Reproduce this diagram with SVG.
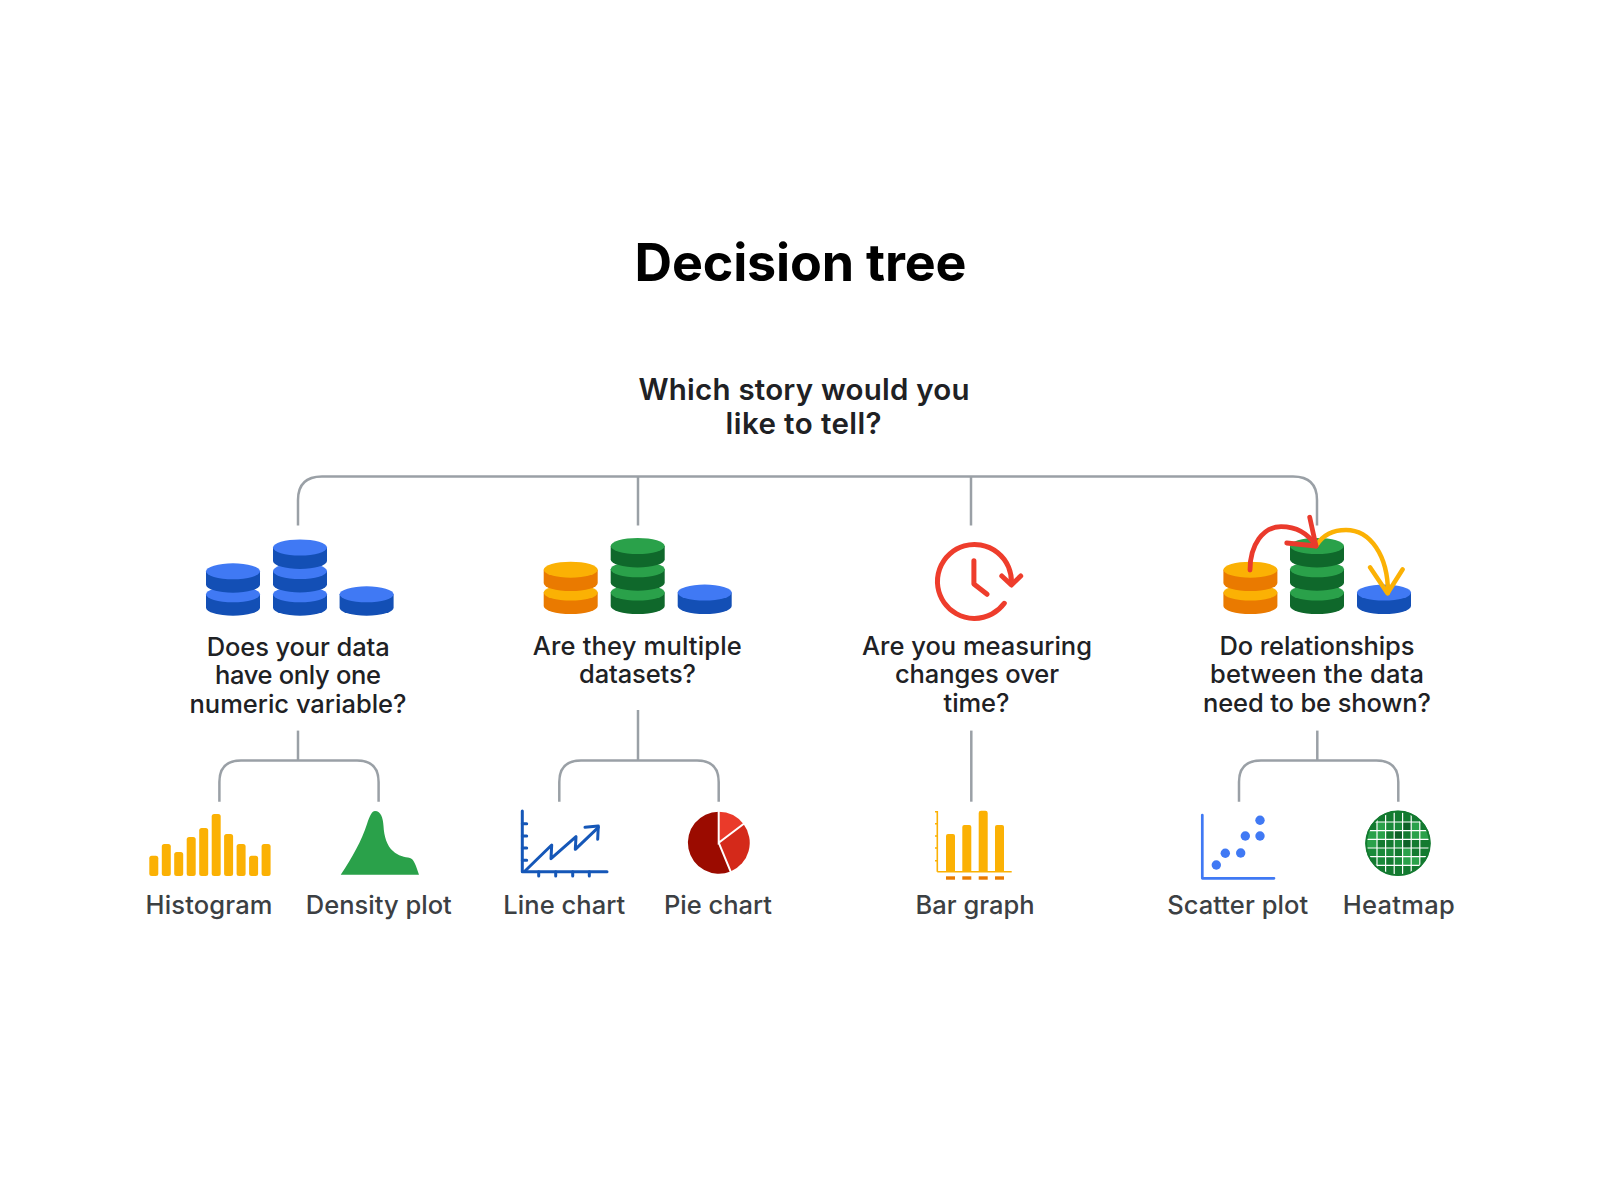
<svg xmlns="http://www.w3.org/2000/svg" xmlns:xlink="http://www.w3.org/1999/xlink" width="1600" height="1197" viewBox="0 0 1600 1197">
<style>
text{font-family:"Inter","Roboto","Liberation Sans",sans-serif;text-anchor:middle}
.title{font-size:52px;font-weight:700;fill:#000}
.sub{font-size:29.500px;font-weight:600;fill:#202124}
.q{font-size:25.500px;font-weight:500;fill:#202124}
.leaf{font-size:25.500px;font-weight:500;fill:#3c4043}
.conn{fill:none;stroke:#9aa0a6;stroke-width:2.500}
.bt{fill:#4079f4}.bs{fill:#134fb5}
.gt{fill:#2aa14a}.gs{fill:#0f682b}
.yt{fill:#fbb104}.ys{fill:#ea7a00}
.arr{fill:none;stroke-linecap:round;stroke-linejoin:round}
.a{fill:#2aa14a}.b{fill:#1a8a3a}.c{fill:#137a30}.d{fill:#0d6228}
.bar{fill:#fbb104}
</style>
<defs>
<g id="blue"><path class="bs" d="M-27 0V13.400A27 8 0 0 0 27 13.400V0Z"/><ellipse class="bt" rx="27" ry="8"/></g>
<g id="green"><path class="gs" d="M-27 0V13.400A27 8 0 0 0 27 13.400V0Z"/><ellipse class="gt" rx="27" ry="8"/></g>
<g id="amber"><path class="ys" d="M-27 0V13.400A27 8 0 0 0 27 13.400V0Z"/><ellipse class="yt" rx="27" ry="8"/></g>
<clipPath id="hm"><circle cx="1398" cy="843.300" r="32.500"/></clipPath>
</defs>
<g id="connectors">
<path class="conn" d="M298 525.500V500Q298 476.500 322 476.500H1293Q1317 476.500 1317 500V525.500"/>
<path class="conn" d="M638 476.500V525.500"/>
<path class="conn" d="M971 476.500V525.500"/>
<path class="conn" d="M298 730.600V760.500"/>
<path class="conn" d="M219.400 801.700V782Q219.400 760.500 241 760.500H357Q378.600 760.500 378.600 782V801.700"/>
<path class="conn" d="M638 710V760.500"/>
<path class="conn" d="M559.300 801.700V782Q559.300 760.500 581 760.500H697Q718.700 760.500 718.700 782V801.700"/>
<path class="conn" d="M971.300 730.600V801.700"/>
<path class="conn" d="M1317.300 730.600V760.500"/>
<path class="conn" d="M1239 801.700V782Q1239 760.500 1261 760.500H1376.400Q1398.300 760.500 1398.300 782V801.700"/>
</g>
<g id="title"><text class="title" x="800.500" y="280.500" textLength="332">Decision tree</text></g>
<g id="root"><text class="sub" x="804" y="400" textLength="331">Which story would you</text><text class="sub" x="803.600" y="434.200" textLength="156">like to tell?</text></g>
<g id="q-single">
<use xlink:href="#blue" href="#blue" x="233" y="594.300"/><use xlink:href="#blue" href="#blue" x="233" y="571.300"/>
<use xlink:href="#blue" href="#blue" x="300" y="594.300"/><use xlink:href="#blue" href="#blue" x="300" y="571"/><use xlink:href="#blue" href="#blue" x="300" y="547.500"/>
<use xlink:href="#blue" href="#blue" x="366.600" y="594.300"/>
<text class="q" x="298.200" y="656" textLength="183">Does your data</text>
<text class="q" x="298" y="684.300" textLength="166">have only one</text>
<text class="q" x="298" y="712.600" textLength="217">numeric variable?</text>
</g>
<g id="q-multiple">
<use xlink:href="#amber" href="#amber" x="570.700" y="592.600"/><use xlink:href="#amber" href="#amber" x="570.700" y="569.700"/>
<use xlink:href="#green" href="#green" x="637.700" y="592.600"/><use xlink:href="#green" href="#green" x="637.700" y="569.300"/><use xlink:href="#green" href="#green" x="637.700" y="546"/>
<use xlink:href="#blue" href="#blue" x="704.700" y="592.600"/>
<text class="q" x="637.300" y="655" textLength="209">Are they multiple</text>
<text class="q" x="637.500" y="683.300" textLength="117">datasets?</text>
</g>
<g id="q-time">
<g class="arr" stroke="#ee3d2c" stroke-width="5">
<path d="M1004.300 603.300A37 37 0 1 1 1011.400 583.300"/>
<path d="M1001.800 576L1011.400 585L1020.700 576"/>
<path d="M973.900 560.700V584L987.100 594.300"/>
</g>
<text class="q" x="977" y="655" textLength="230">Are you measuring</text>
<text class="q" x="977" y="683.300" textLength="164">changes over</text>
<text class="q" x="976.500" y="711.600" textLength="66">time?</text>
</g>
<g id="q-relationships">
<use xlink:href="#amber" href="#amber" x="1250.400" y="592.600"/><use xlink:href="#amber" href="#amber" x="1250.400" y="569.700"/>
<use xlink:href="#green" href="#green" x="1317" y="592.600"/><use xlink:href="#green" href="#green" x="1317" y="569.300"/><use xlink:href="#green" href="#green" x="1317" y="546"/>
<use xlink:href="#blue" href="#blue" x="1384" y="592.600"/>
<g class="arr" stroke="#fbb104" stroke-width="4.500">
<path d="M1316.700 545C1323 535 1334 530 1346 530C1370 530 1388 555 1388 593"/>
<path d="M1370 567.300L1387.500 593.300L1402.700 569.300"/>
</g>
<g class="arr" stroke="#ea3a2c" stroke-width="4.800">
<path d="M1250 570C1250 545 1263 526.700 1281 526.700C1298 526.700 1309 535 1316 546"/>
<path d="M1286.700 543L1316 546L1309.700 517.300"/>
</g>
<text class="q" x="1317" y="655" textLength="195">Do relationships</text>
<text class="q" x="1317" y="683.300" textLength="214">between the data</text>
<text class="q" x="1317" y="711.600" textLength="228">need to be shown?</text>
</g>
<g id="histogram">
<rect class="bar" x="149.300" y="855.700" width="9" height="20.300" rx="2.500"/>
<rect class="bar" x="161.800" y="844" width="9" height="32" rx="2.500"/>
<rect class="bar" x="174.200" y="852" width="9" height="24" rx="2.500"/>
<rect class="bar" x="186.700" y="837" width="9" height="39" rx="2.500"/>
<rect class="bar" x="199.200" y="828" width="9" height="48" rx="2.500"/>
<rect class="bar" x="211.700" y="814" width="9" height="62" rx="2.500"/>
<rect class="bar" x="224.100" y="834" width="9" height="42" rx="2.500"/>
<rect class="bar" x="236.600" y="844" width="9" height="32" rx="2.500"/>
<rect class="bar" x="249.100" y="855.700" width="9" height="20.300" rx="2.500"/>
<rect class="bar" x="261.600" y="844" width="9" height="32" rx="2.500"/>
<text class="leaf" x="209" y="914" textLength="127">Histogram</text>
</g>
<g id="density">
<path fill="#2aa14a" d="M340.700 874.700C352 858 362 840 367 824C370 815 372 811 375 811C381 811 383 818 383.500 826C384 836 387 846 393 851C398 856 405 857 410 858C414 859 416 866 419 874.700Z"/>
<text class="leaf" x="378.800" y="914" textLength="146">Density plot</text>
</g>
<g id="line-chart">
<g class="arr" stroke="#1557b8" stroke-width="3">
<path d="M522.300 811V871.700H607"/>
<path d="M522.300 823.700H526.700M522.300 836H526.700M522.300 848H526.700M522.300 860.300H526.700"/>
<path d="M538.700 871.700V876M555.700 871.700V876M572.700 871.700V876M589.300 871.700V876"/>
<path d="M525 871L551.700 845L551 858.700L576 836.700L575.300 849.300L598.300 827.300"/>
<path d="M585 827.300L598.300 826L597.700 839.300"/>
</g>
<text class="leaf" x="564.300" y="914" textLength="122">Line chart</text>
</g>
<g id="pie-chart">
<path fill="#9b0b00" d="M718.700 842.700L730.600 871.400A31 31 0 1 1 718.700 811.700Z"/>
<path fill="#d4291a" d="M718.700 842.700L743.500 824.100A31 31 0 0 1 730.600 871.400Z"/>
<path fill="#ea3a2a" d="M718.700 842.700V811.700A31 31 0 0 1 743.500 824.100Z"/>
<path fill="none" stroke="#fff" stroke-width="2" d="M718.700 810V842.700L744.500 823.300M718.700 842.700L731.200 872.800"/>
<text class="leaf" x="718" y="914" textLength="108">Pie chart</text>
</g>
<g id="bar-graph">
<path fill="none" stroke="#fbb104" stroke-width="1.600" d="M935 811.700H937.300V871.700M935 823.700H937.300M935 836H937.300M935 848H937.300M935 860.700H937.300"/>
<path fill="none" stroke="#fbb104" stroke-width="1.600" d="M937.300 871.700H1011.700"/>
<path class="bar" d="M946 871.700V836a2 2 0 0 1 2-2h5a2 2 0 0 1 2 2V871.700Z"/>
<path class="bar" d="M962.300 871.700V827a2 2 0 0 1 2-2h5a2 2 0 0 1 2 2V871.700Z"/>
<path class="bar" d="M978.700 871.700V813a2.300 2.300 0 0 1 2.300-2.300h4.400a2.300 2.300 0 0 1 2.300 2.300V871.700Z"/>
<path class="bar" d="M995 871.700V827a2 2 0 0 1 2-2h5a2 2 0 0 1 2 2V871.700Z"/>
<g fill="#ea7a00"><rect x="946" y="876.300" width="9" height="3.400"/><rect x="962.300" y="876.300" width="9" height="3.400"/><rect x="978.700" y="876.300" width="9" height="3.400"/><rect x="995" y="876.300" width="9" height="3.400"/></g>
<text class="leaf" x="975" y="914" textLength="119">Bar graph</text>
</g>
<g id="scatter-plot">
<path class="arr" stroke="#4079f4" stroke-width="2.700" d="M1202.300 815V878.300H1274"/>
<g fill="#4079f4"><circle cx="1216.300" cy="865" r="4.700"/><circle cx="1225.300" cy="853.300" r="4.700"/><circle cx="1240.700" cy="853" r="4.700"/><circle cx="1245.300" cy="836" r="4.700"/><circle cx="1260" cy="836" r="4.700"/><circle cx="1260" cy="820.300" r="4.700"/></g>
<text class="leaf" x="1237.700" y="914" textLength="141">Scatter plot</text>
</g>
<g id="heatmap">
<g clip-path="url(#hm)">
<rect x="1365" y="810" width="66" height="67" fill="#137a30"/>
<rect class="a" x="1377" y="822" width="8.600" height="8.700"/><rect class="b" x="1385.600" y="822" width="8.600" height="8.700"/><rect class="b" x="1394.200" y="822" width="8.400" height="8.700"/><rect class="d" x="1402.600" y="822" width="8.600" height="8.700"/><rect class="a" x="1411.200" y="822" width="8.600" height="8.700"/>
<rect class="a" x="1368" y="830.700" width="9" height="8.600"/><rect class="a" x="1377" y="830.700" width="8.600" height="8.600"/><rect class="c" x="1385.600" y="830.700" width="8.600" height="8.600"/><rect class="d" x="1394.200" y="830.700" width="8.400" height="8.600"/><rect class="c" x="1402.600" y="830.700" width="8.600" height="8.600"/><rect class="a" x="1411.200" y="830.700" width="8.600" height="8.600"/><rect class="a" x="1419.800" y="830.700" width="9" height="8.600"/>
<rect class="a" x="1365" y="839.300" width="12" height="8.700"/><rect class="c" x="1385.600" y="839.300" width="8.600" height="8.700"/><rect class="b" x="1394.200" y="839.300" width="8.400" height="8.700"/><rect class="d" x="1402.600" y="839.300" width="8.600" height="8.700"/>
<rect class="b" x="1365" y="848" width="12" height="8.700"/><rect class="b" x="1377" y="848" width="8.600" height="8.700"/><rect class="b" x="1385.600" y="848" width="8.600" height="8.700"/><rect class="a" x="1402.600" y="848" width="8.600" height="8.700"/>
<rect class="b" x="1377" y="856.700" width="8.600" height="8.600"/><rect class="b" x="1394.200" y="856.700" width="8.400" height="8.600"/><rect class="a" x="1402.600" y="856.700" width="8.600" height="8.600"/><rect class="a" x="1411.200" y="856.700" width="8.600" height="8.600"/>
<path fill="none" stroke="#fff" stroke-width="1.200" d="M1377 810V877M1385.600 810V877M1394.200 810V877M1402.600 810V877M1411.200 810V877M1419.800 810V877M1365 822H1431M1365 830.700H1431M1365 839.300H1431M1365 848H1431M1365 856.700H1431M1365 865.300H1431"/>
</g>
<circle cx="1398" cy="843.300" r="31.800" fill="none" stroke="#137a30" stroke-width="1.800"/>
<text class="leaf" x="1398.700" y="914" textLength="112">Heatmap</text>
</g>
</svg>
